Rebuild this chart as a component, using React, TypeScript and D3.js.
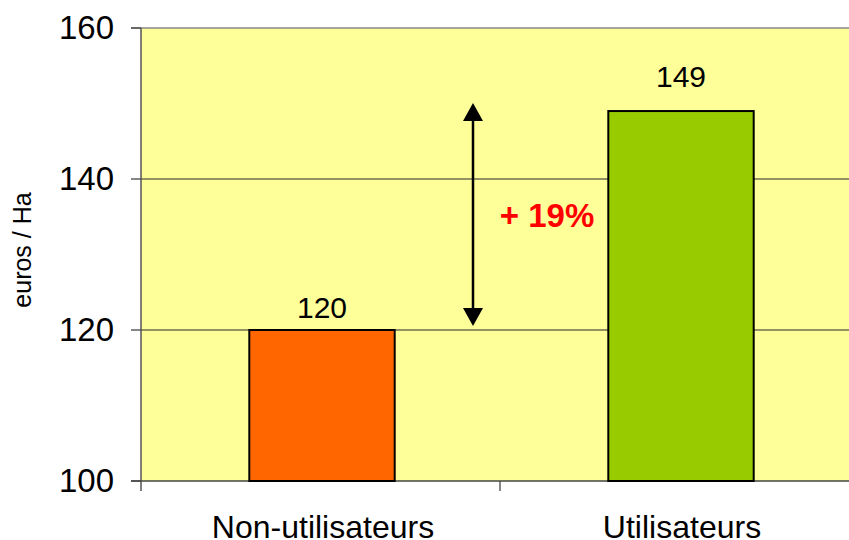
import React from "react";
import * as d3 from "d3";

const categories = ["Non-utilisateurs", "Utilisateurs"];
const values = [120, 149];
const barColors = ["#FF6600", "#99CC00"];
const yTicks = [100, 120, 140, 160];
const annotation = "+ 19%";
const yTitle = "euros / Ha";

export default function App() {
  const W = 849, H = 540;
  const left = 141, top = 28, bottom = 481;
  const x = d3.scaleBand<string>().domain(categories).range([left, left + 718]).paddingInner(0).paddingOuter(0);
  const y = d3.scaleLinear().domain([100, 160]).range([bottom, top]);
  const barW = x.bandwidth() * 0.405;
  const font = "'Liberation Sans', Arial, sans-serif";
  const arrowX = 473;
  const yA = y(values[1]) - 8;
  const yB = y(values[0]) - 4;
  const labelGap = [12, 24];
  return (
    <svg width={W} height={H} style={{ position: "absolute", left: 0, top: 0 }} fontFamily={font}>
      <rect x={0} y={0} width={W} height={H} fill="#fff" />
      <rect x={left} y={top} width={W - left + 20} height={bottom - top} fill="#FFFF99" />
      {yTicks.filter(t => t !== 100 && t !== 160).map(t => (
        <line key={t} x1={left} x2={W + 20} y1={y(t)} y2={y(t)} stroke="#6e6e50" strokeWidth={1.3} />
      ))}
      <line x1={left - 10} x2={W + 20} y1={top} y2={top} stroke="#888" strokeWidth={1.5} />
      <line x1={left} x2={left} y1={top} y2={bottom + 10} stroke="#555" strokeWidth={1.5} />
      <line x1={left - 10} x2={W + 20} y1={bottom} y2={bottom} stroke="#444" strokeWidth={1.5} />
      {yTicks.map(t => (
        <g key={t}>
          <line x1={left - 10} x2={left} y1={y(t)} y2={y(t)} stroke="#444" strokeWidth={1.3} />
          <text x={114} y={y(t) + 11} textAnchor="end" fontSize={33} fill="#000">{t}</text>
        </g>
      ))}
      {categories.map((c, i) => (
        <line key={"xt" + i} x1={(x(c) as number) + x.bandwidth()} x2={(x(c) as number) + x.bandwidth()} y1={bottom} y2={bottom + 10} stroke="#444" strokeWidth={1.3} />
      ))}
      {categories.map((c, i) => {
        const cx = (x(c) as number) + x.bandwidth() / 2 + 1.5;
        return (
          <g key={c}>
            <rect x={cx - barW / 2} y={y(values[i])} width={barW} height={bottom - y(values[i])} fill={barColors[i]} stroke="#000" strokeWidth={2} />
            <text x={cx} y={y(values[i]) - labelGap[i]} textAnchor="middle" fontSize={30} fill="#000">{values[i]}</text>
            <text x={cx + 1} y={538} textAnchor="middle" fontSize={32} fill="#000">{c}</text>
          </g>
        );
      })}
      <line x1={arrowX} x2={arrowX} y1={yA + 14} y2={yB - 14} stroke="#000" strokeWidth={2.5} />
      <path d={`M${arrowX},${yA} L${arrowX - 10},${yA + 18} L${arrowX + 10},${yA + 18} Z`} fill="#000" />
      <path d={`M${arrowX},${yB} L${arrowX - 10},${yB - 18} L${arrowX + 10},${yB - 18} Z`} fill="#000" />
      <text x={547} y={227} textAnchor="middle" fontSize={33} fontWeight="bold" fill="#FF0000">{annotation}</text>
      <text transform={`translate(31,${250}) rotate(-90)`} textAnchor="middle" fontSize={25} fill="#000">{yTitle}</text>
    </svg>
  );
}
